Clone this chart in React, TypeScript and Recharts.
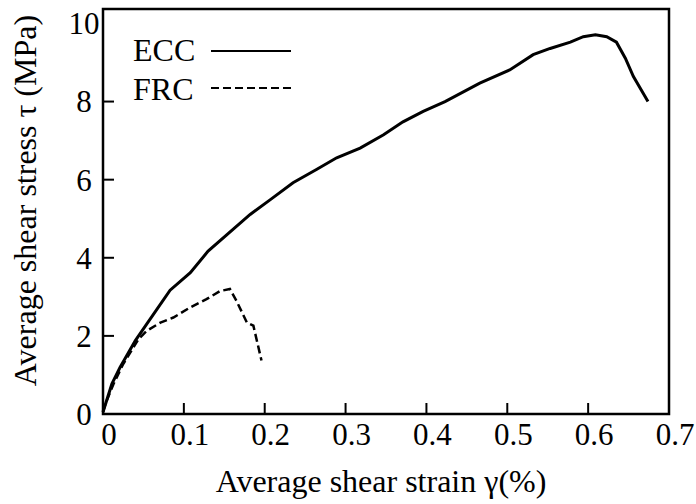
import React from 'react';
import { LineChart, Line, XAxis, YAxis, Legend, ReferenceArea } from 'recharts';

// strain γ (%) and shear stress τ (MPa)
const eccStrain = [0, 0.011, 0.021, 0.04, 0.054, 0.083, 0.108, 0.13, 0.182, 0.207, 0.235, 0.264, 0.289, 0.318, 0.347, 0.371, 0.396, 0.423, 0.466, 0.503, 0.532, 0.553, 0.578, 0.594, 0.609, 0.623, 0.635, 0.646, 0.656, 0.674];
const eccStress = [0.05, 0.77, 1.19, 1.88, 2.3, 3.17, 3.62, 4.17, 5.11, 5.49, 5.92, 6.26, 6.56, 6.81, 7.15, 7.48, 7.75, 8.0, 8.47, 8.81, 9.2, 9.36, 9.52, 9.66, 9.71, 9.66, 9.52, 9.11, 8.64, 8.0];

const frcStrain = [0, 0.003, 0.013, 0.025, 0.044, 0.054, 0.071, 0.087, 0.108, 0.128, 0.145, 0.157, 0.165, 0.178, 0.186, 0.196];
const frcStress = [0.05, 0.26, 0.77, 1.28, 1.92, 2.13, 2.34, 2.47, 2.73, 2.94, 3.15, 3.2, 2.9, 2.34, 2.26, 1.37];

const xTicks = [0, 0.1, 0.2, 0.3, 0.4, 0.5, 0.6, 0.7];
const yTicks = [0, 2, 4, 6, 8, 10];

const X_MAX = 0.7;
const Y_MAX = 10.37;
const serif = "'Liberation Serif', 'Times New Roman', Times, 'DejaVu Serif', serif";
const txt = (size: number) => ({ fontFamily: serif, fontSize: size, fill: '#000' });

const eccData = eccStrain.map((x, i) => ({ x, y: eccStress[i] }));
const frcData = frcStrain.map((x, i) => ({ x, y: frcStress[i] }));

const XTick = ({ x, y, payload }: any) => (
  <g>
    <line x1={x} y1={y} x2={x} y2={y - 11} stroke="#000" strokeWidth={2} />
    <text x={x + 6} y={y + 31} textAnchor="middle" style={txt(31)}>
      {payload.value}
    </text>
  </g>
);

const YTick = ({ x, y, payload }: any) => (
  <g>
    {payload.value < 10 && <line x1={x} y1={y} x2={x + 11} y2={y} stroke="#000" strokeWidth={2} />}
    <text x={x - 19} y={y} dy="0.35em" textAnchor="middle" style={txt(31)}>
      {payload.value}
    </text>
  </g>
);

const YTitle = ({ viewBox }: any) => {
  const cx = viewBox.x - 7;
  const cy = viewBox.y + viewBox.height / 2 - 11;
  return (
    <text x={cx} y={cy} transform={`rotate(-90 ${cx} ${cy})`} textAnchor="middle" style={txt(32)}>
      Average shear stress τ (MPa)
    </text>
  );
};

const XTitle = ({ viewBox }: any) => (
  <text x={viewBox.x + viewBox.width / 2 - 5} y={viewBox.y + 78} textAnchor="middle" style={txt(32)}>
    Average shear strain γ(%)
  </text>
);

const renderLegend = ({ payload }: any) => (
  <svg width={190} height={90}>
    {(payload || []).map((entry: any, i: number) => (
      <g key={entry.value}>
        <text x={8} y={41 + i * 39} style={txt(32)}>
          {entry.value}
        </text>
        <line
          x1={86}
          x2={166}
          y1={31 + i * 37}
          y2={31 + i * 37}
          stroke="#000"
          strokeWidth={2}
          strokeDasharray={entry.payload?.strokeDasharray}
        />
      </g>
    ))}
  </svg>
);

export default function App() {
  return (
    <div style={{ position: 'absolute', left: 0, top: 0, width: 696, height: 504, background: '#fff' }}>
      <LineChart width={696} height={504} margin={{ top: 9, right: 27, left: 43, bottom: 60 }}>
        <XAxis
          type="number"
          dataKey="x"
          domain={[0, X_MAX]}
          ticks={xTicks}
          interval={0}
          axisLine={false}
          tickLine={false}
          tickSize={0}
          tickMargin={0}
          height={30}
          tick={<XTick />}
          label={XTitle}
        />
        <YAxis
          type="number"
          dataKey="y"
          domain={[0, Y_MAX]}
          ticks={yTicks}
          interval={0}
          axisLine={false}
          tickLine={false}
          tickSize={0}
          tickMargin={0}
          width={60}
          tick={<YTick />}
          label={YTitle}
        />
        <ReferenceArea x1={0} x2={X_MAX} y1={0} y2={Y_MAX} fill="none" stroke="#000" strokeWidth={2.5} ifOverflow="visible" />
        <Legend
          layout="horizontal"
          verticalAlign="middle"
          align="center"
          content={renderLegend}
          wrapperStyle={{ left: 125, top: 20, width: 190, height: 90 }}
        />
        <Line
          data={eccData}
          dataKey="y"
          name="ECC"
          type="linear"
          stroke="#000"
          strokeWidth={3}
          dot={false}
          isAnimationActive={false}
        />
        <Line
          data={frcData}
          dataKey="y"
          name="FRC"
          type="linear"
          stroke="#000"
          strokeWidth={2.5}
          strokeDasharray="8 4"
          dot={false}
          isAnimationActive={false}
        />
      </LineChart>
    </div>
  );
}
